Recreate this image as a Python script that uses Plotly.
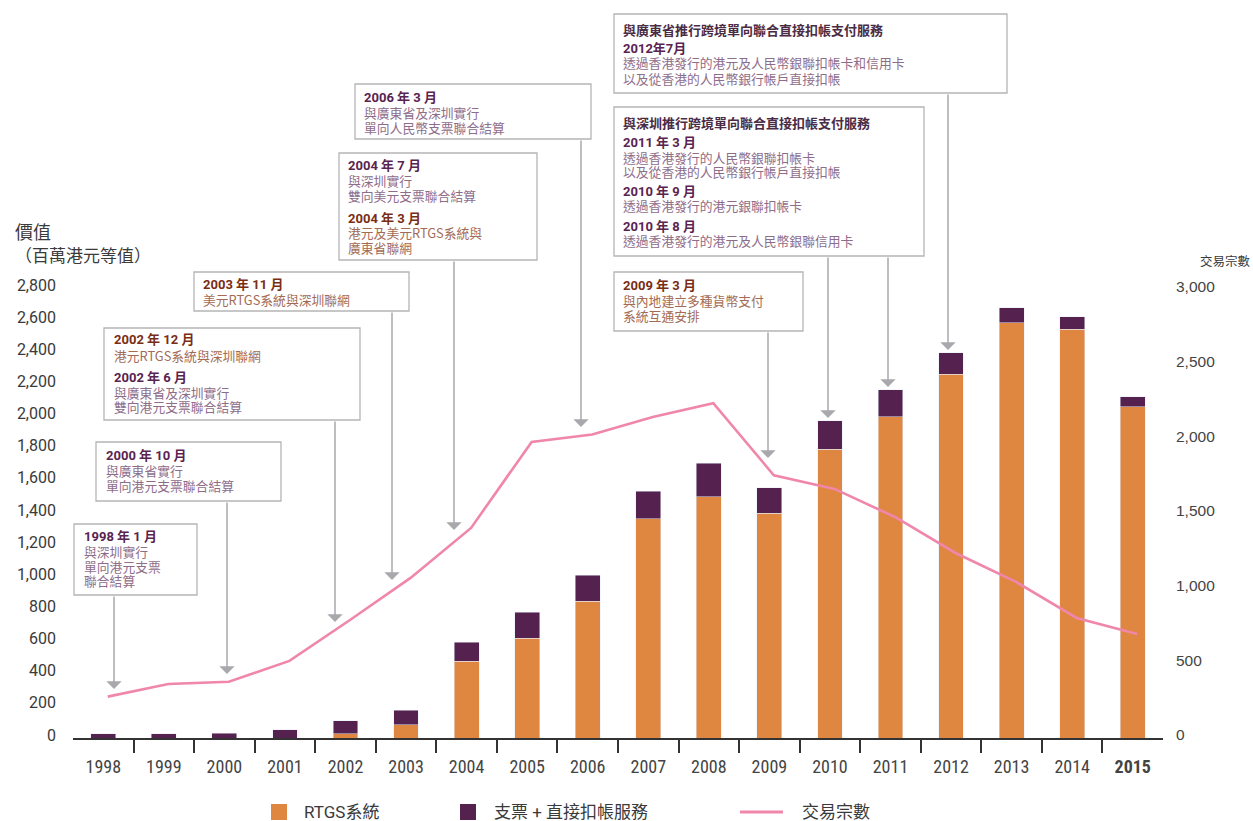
import plotly.graph_objects as go

# ---------------- data ----------------
years = [str(y) for y in range(1998, 2016)]
year_labels = years[:-1] + ["<b>2015</b>"]
rtgs = [0, 0, 0, 0, 25, 81, 479, 622, 852, 1363, 1500, 1400, 1798, 1998, 2265, 2583, 2545, 2060]
cheque_dd = [25, 25, 30, 50, 81, 93, 118, 162, 162, 174, 211, 156, 175, 168, 131, 93, 75, 62]
transactions = [277, 362, 377, 516, 790, 1072, 1407, 1983, 2032, 2150, 2242, 1759, 1668, 1480, 1239, 1045, 804, 697]
left_ticks = list(range(0, 2801, 200))
right_ticks = list(range(0, 3001, 500))
boundary_ticks = [i + 0.5 for i in range(len(years) - 1)]

series_names = ["RTGS系統", "支票 + 直接扣帳服務", "交易宗數"]
C_ORANGE = "#DF8641"
C_PURPLE = "#55214F"
C_PINK = "#F087AA"

# ---------------- geometry (pixels) ----------------
W_FIG, H_FIG = 1253, 821
L, R, T, B = 73, 1163, 0, 738
PW, PH = R - L, B - T


def px(x):
    return (x - L) / PW


def py(y):
    return (B - y) / PH


FONT_NUM = "Roboto, 'Noto Sans CJK TC', sans-serif"
FONT_CJK = "'Noto Sans CJK TC', 'Noto Sans CJK SC', sans-serif"
FONT_X = "'Liberation Sans Narrow', 'Roboto Condensed', Roboto, sans-serif"

fig = go.Figure()
fig.add_trace(go.Bar(x=years, y=rtgs, name=series_names[0], marker_color=C_ORANGE,
                     width=0.41, showlegend=False))
fig.add_trace(go.Bar(x=years, y=cheque_dd, name=series_names[1], marker_color=C_PURPLE,
                     width=0.41, showlegend=False))
fig.add_trace(go.Scatter(x=years, y=transactions, name=series_names[2], mode="lines",
                         line=dict(color=C_PINK, width=2.6), xaxis="x2", yaxis="y2",
                         showlegend=False))
# invisible helper trace so the tick-mark axis (x3) is drawn
fig.add_trace(go.Scatter(x=[], y=[], xaxis="x3", yaxis="y", showlegend=False, hoverinfo="skip"))

# ---------------- annotation boxes ----------------
STY = {
    "hp": dict(color="#5A2350", size=13, family=FONT_NUM, bold=True),
    "hb": dict(color="#7A2D15", size=13, family=FONT_NUM, bold=True),
    "bp": dict(color="#8E6D8A", size=12.8, family=FONT_CJK, bold=False),
    "bb": dict(color="#A36B55", size=12.8, family=FONT_CJK, bold=False),
    "t": dict(color="#4A2C45", size=13, family=FONT_CJK, bold=True),
}

boxes = [
    dict(rect=(74, 524, 197, 595), tx=83, arrows=[(114, 689)], lines=[
        ("1998 年 1 月", "hp", 536), ("與深圳實行", "bp", 551.5), ("單向港元支票", "bp", 566),
        ("聯合結算", "bp", 580.5)]),
    dict(rect=(96, 442, 281, 501), tx=105, arrows=[(227, 674)], lines=[
        ("2000 年 10 月", "hp", 455), ("與廣東省實行", "bp", 470.5), ("單向港元支票聯合結算", "bp", 485)]),
    dict(rect=(104, 328, 360, 420), tx=113, arrows=[(335, 622)], lines=[
        ("2002 年 12 月", "hb", 339.5), ("港元RTGS系統與深圳聯網", "bb", 355),
        ("2002 年 6 月", "hp", 377), ("與廣東省及深圳實行", "bp", 392), ("雙向港元支票聯合結算", "bp", 407)]),
    dict(rect=(194, 272, 409, 311), tx=202, arrows=[(392, 580)], lines=[
        ("2003 年 11 月", "hb", 284), ("美元RTGS系統與深圳聯網", "bb", 299.5)]),
    dict(rect=(339, 153, 537, 260), tx=347, arrows=[(454, 530)], lines=[
        ("2004 年 7 月", "hp", 165), ("與深圳實行", "bp", 180.5), ("雙向美元支票聯合結算", "bp", 195),
        ("2004 年 3 月", "hb", 218), ("港元及美元RTGS系統與", "bb", 232.5), ("廣東省聯網", "bb", 247.5)]),
    dict(rect=(355, 84, 591, 139), tx=363, arrows=[(581, 427)], lines=[
        ("2006 年 3 月", "hp", 97), ("與廣東省及深圳實行", "bp", 112.5), ("單向人民幣支票聯合結算", "bp", 127.5)]),
    dict(rect=(614, 272, 803, 331), tx=622, arrows=[(768, 458)], lines=[
        ("2009 年 3 月", "hb", 285.5), ("與內地建立多種貨幣支付", "bb", 300), ("系統互通安排", "bb", 315)]),
    dict(rect=(614, 107, 924, 256), tx=622, arrows=[(828, 418), (888, 387)], lines=[
        ("與深圳推行跨境單向聯合直接扣帳支付服務", "t", 122.5),
        ("2011 年 3 月", "hp", 142), ("透過香港發行的人民幣銀聯扣帳卡", "bp", 157),
        ("以及從香港的人民幣銀行帳戶直接扣帳", "bp", 171.5),
        ("2010 年 9 月", "hp", 191), ("透過香港發行的港元銀聯扣帳卡", "bp", 206),
        ("2010 年 8 月", "hp", 226), ("透過香港發行的港元及人民幣銀聯信用卡", "bp", 240.5)]),
    dict(rect=(614, 14, 1007, 93), tx=622, arrows=[(948, 350)], lines=[
        ("與廣東省推行跨境單向聯合直接扣帳支付服務", "t", 29),
        ("2012年7月", "hp", 48), ("透過香港發行的港元及人民幣銀聯扣帳卡和信用卡", "bp", 63),
        ("以及從香港的人民幣銀行帳戶直接扣帳", "bp", 78)]),
]

shapes = []
annotations = []
for bx in boxes:
    x0, y0, x1, y1 = bx["rect"]
    shapes.append(dict(type="rect", xref="paper", yref="paper", x0=px(x0), x1=px(x1),
                       y0=py(y1), y1=py(y0), line=dict(color="#B5B5B7", width=1.3),
                       fillcolor="white", layer="above"))
    for (ax_, tip) in bx["arrows"]:
        annotations.append(dict(xref="paper", yref="paper", x=px(ax_), y=py(tip), text="",
                                showarrow=True, ax=0, ay=-(tip - y1), axref="pixel", ayref="pixel",
                                arrowhead=1, arrowsize=1.7, arrowwidth=1.5, arrowcolor="#A8A9AD",
                                standoff=0, startstandoff=0))
    for (txt, kind, yc) in bx["lines"]:
        s = STY[kind]
        annotations.append(dict(xref="paper", yref="paper", x=px(bx["tx"]), y=py(yc),
                                xanchor="left", yanchor="middle", showarrow=False, borderpad=0,
                                text=("<b>%s</b>" % txt) if s["bold"] else txt,
                                font=dict(color=s["color"], size=s["size"], family=s["family"])))

# axis titles
annotations.append(dict(xref="paper", yref="paper", x=px(13), y=py(230.5), xanchor="left",
                        yanchor="middle", showarrow=False, text="價值",
                        font=dict(size=18, color="#3A3A3A", family=FONT_CJK)))
annotations.append(dict(xref="paper", yref="paper", x=px(13), y=py(254), xanchor="left",
                        yanchor="middle", showarrow=False, text="（百萬港元等值）",
                        font=dict(size=17, color="#3A3A3A", family=FONT_CJK)))
annotations.append(dict(xref="paper", yref="paper", x=px(1252), y=py(260), xanchor="right",
                        yanchor="middle", showarrow=False, text="交易宗數", borderpad=0,
                        font=dict(size=12.5, color="#3A3A3A", family=FONT_CJK)))

# manual legend
leg_y = 812
shapes.append(dict(type="rect", xref="paper", yref="paper", x0=px(271), x1=px(287),
                   y0=py(820), y1=py(804), fillcolor=C_ORANGE, line=dict(width=0)))
shapes.append(dict(type="rect", xref="paper", yref="paper", x0=px(460), x1=px(476),
                   y0=py(820), y1=py(804), fillcolor=C_PURPLE, line=dict(width=0)))
shapes.append(dict(type="line", xref="paper", yref="paper", x0=px(740), x1=px(783),
                   y0=py(leg_y), y1=py(leg_y), line=dict(color=C_PINK, width=3)))
for (lx, name) in [(302, series_names[0]), (492, series_names[1]), (800, series_names[2])]:
    annotations.append(dict(xref="paper", yref="paper", x=px(lx), y=py(leg_y), xanchor="left",
                            yanchor="middle", showarrow=False, text=name,
                            font=dict(size=17, color="#3A3A3A", family=FONT_NUM)))

fig.update_layout(
    width=W_FIG, height=H_FIG,
    margin=dict(l=L, r=W_FIG - R, t=T, b=H_FIG - B, autoexpand=False),
    paper_bgcolor="white", plot_bgcolor="white",
    barmode="stack", showlegend=False,
    xaxis=dict(type="category", categoryarray=years, range=[-0.5, 17.5],
               tickvals=years, ticktext=year_labels, ticks="",
               showline=True, linecolor="#333333", linewidth=1.5, showgrid=False,
               ticklabelstandoff=12,
               tickfont=dict(family=FONT_X, size=18, color="#444444")),
    xaxis2=dict(type="category", categoryarray=years, range=[-0.574, 17.426],
                overlaying="x", visible=False, anchor="y2"),
    xaxis3=dict(type="linear", range=[-0.5, len(years) - 0.5], overlaying="x", anchor="y",
                side="bottom", tickvals=boundary_ticks, ticks="outside", ticklen=14,
                tickwidth=1.5, tickcolor="#333333", showticklabels=False,
                showline=False, showgrid=False, zeroline=False),
    yaxis=dict(range=[0, PH / 0.1607], tickvals=left_ticks, tickformat=",d",
               showgrid=False, zeroline=False, showline=False, ticks="",
               ticklabelstandoff=16, ticklabelshift=-3,
               tickfont=dict(family=FONT_NUM, size=16, color="#3A3A3A")),
    yaxis2=dict(range=[0, PH / 0.14933], tickvals=right_ticks, tickformat=",d",
                overlaying="y", side="right", anchor="x2",
                showgrid=False, zeroline=False, showline=False, ticks="",
                ticklabelstandoff=12, ticklabelshift=-3,
                tickfont=dict(family="'Liberation Sans', Arial, sans-serif", size=15.5, color="#444444")),
    shapes=shapes,
    annotations=annotations,
)

fig.write_html("out.html", config={"displayModeBar": False},
               post_script="document.body.style.margin='0';document.body.style.overflow='hidden';")
